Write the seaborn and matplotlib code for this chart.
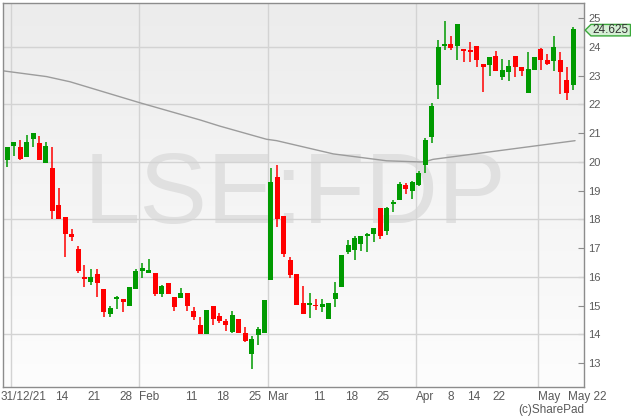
import numpy as np
import pandas as pd
import matplotlib
matplotlib.use("Agg")
import matplotlib.pyplot as plt
import seaborn as sns
from matplotlib.colors import LinearSegmentedColormap
from matplotlib.patches import Polygon
from matplotlib.transforms import ScaledTranslation, blended_transform_factory

# ── Data: daily candles (31/12/21 .. 10 May 22) ──
opens = [20.08, 20.57, 20.52, 20.18, 20.79, 20.66, 19.98, 19.79, 18.50, 18.09,
         17.50, 16.98, 16.01, 15.83, 16.10, 15.58, 14.72, 15.23, 15.23, 15.00,
         15.59, 16.21, 16.15, 16.14, 15.39, 15.79, 15.30, 15.28, 15.44, 14.82,
         14.33, 14.00, 14.99, 14.64, 14.46, 14.09, 14.54, 14.06, 13.33, 13.99,
         14.06, 15.91, 19.48, 18.12, 16.59, 16.10, 15.08, 15.03, 15.04, 14.97,
         14.55, 15.22, 15.66, 16.85, 16.92, 17.16, 17.44, 17.51, 18.39, 17.61,
         18.54, 18.69, 19.20, 18.99, 19.21, 19.89, 20.88, 22.69, 24.03, 24.10,
         24.02, 23.93, 23.90, 24.03, 23.41, 23.37, 23.69, 22.97, 23.14, 23.69,
         23.30, 22.41, 23.21, 23.92, 23.55, 23.52, 23.55, 22.85, 22.69]
highs = [20.52, 20.70, 20.77, 20.95, 21.00, 20.90, 20.70, 20.51, 19.09, 18.09,
         17.67, 17.07, 16.41, 16.27, 16.27, 15.58, 14.99, 15.34, 15.23, 15.65,
         16.27, 16.50, 16.63, 16.14, 15.72, 15.79, 15.30, 15.61, 15.44, 14.97,
         14.60, 14.85, 14.99, 14.74, 14.53, 14.81, 14.54, 14.25, 13.96, 14.26,
         15.20, 19.78, 19.89, 18.12, 16.69, 16.10, 15.69, 15.43, 15.22, 15.22,
         15.08, 15.82, 16.77, 17.29, 17.43, 17.43, 17.52, 17.70, 18.39, 18.44,
         18.68, 19.30, 19.28, 19.35, 19.68, 20.82, 22.04, 24.24, 24.90, 24.38,
         24.80, 23.93, 24.18, 24.03, 23.41, 23.64, 23.85, 23.58, 23.55, 23.69,
         23.30, 23.84, 23.65, 23.95, 23.75, 24.38, 23.84, 23.29, 24.69]
lows = [19.84, 20.21, 20.08, 20.18, 20.51, 20.08, 19.98, 18.03, 18.00, 16.71,
        17.24, 16.13, 15.64, 15.73, 15.29, 14.62, 14.62, 14.90, 14.77, 15.00,
        15.59, 15.95, 16.15, 15.34, 15.29, 15.39, 14.81, 15.28, 14.83, 14.50,
        14.00, 14.00, 14.32, 14.39, 14.11, 14.04, 14.04, 13.74, 12.81, 13.62,
        14.06, 15.91, 17.73, 16.71, 15.97, 15.02, 14.70, 14.56, 14.85, 14.78,
        14.55, 14.97, 15.66, 16.79, 16.59, 16.89, 16.87, 17.22, 17.31, 17.45,
        18.27, 18.69, 18.89, 18.70, 19.17, 19.63, 20.65, 22.18, 23.90, 23.89,
        23.55, 23.49, 23.49, 23.31, 22.43, 22.98, 23.18, 22.85, 22.83, 22.95,
        22.99, 22.41, 23.21, 23.19, 23.38, 23.18, 22.35, 22.16, 22.50]
closes = [20.52, 20.70, 20.11, 20.70, 21.00, 20.08, 20.56, 18.31, 18.01, 17.51,
          17.40, 16.22, 15.94, 15.99, 15.80, 14.79, 14.92, 15.30, 15.11, 15.65,
          16.20, 16.31, 16.25, 15.39, 15.68, 15.39, 14.97, 15.44, 15.00, 14.61,
          14.00, 14.85, 14.55, 14.48, 14.31, 14.68, 14.04, 13.78, 13.84, 14.19,
          15.20, 19.30, 18.01, 16.78, 16.08, 15.02, 14.70, 15.08, 14.99, 15.05,
          15.08, 15.44, 16.77, 17.11, 17.36, 17.43, 17.46, 17.70, 17.44, 18.40,
          18.58, 19.23, 19.06, 19.29, 19.61, 20.77, 21.94, 23.99, 24.10, 23.98,
          24.80, 23.85, 23.83, 23.55, 23.31, 23.64, 23.18, 23.20, 23.34, 23.29,
          23.18, 23.23, 23.65, 23.56, 23.40, 23.99, 23.14, 22.41, 24.625]

# moving average line (vertices, x = trading-day index)
ma_days = [-0.67, 6.1, 9.75, 20.6, 30.0, 33.0, 40.3, 41.9, 50.7, 59.0, 64.2, 65.0, 66.2, 88.3]
ma_values = [23.17, 22.97, 22.79, 22.06, 21.46, 21.25, 20.79, 20.74, 20.28, 20.04, 20.00, 20.01, 20.09, 20.74]

# x ticks sit at the right edge of the labelled trading day
tick_labels = ["31/12/21", "", "14", "21", "28", "Feb", "", "11", "18", "25", "Mar",
               "", "11", "18", "25", "Apr", "", "8", "14", "22", "May", "May 22"]
tick_days = [0, 4, 9, 14, 19, 20, 24, 29, 34, 39, 40, 44, 49, 54, 59, 63, 64, 69, 73, 77, 82, 86]
month_days = [0, 20, 40, 63, 82]

last_price = "24.625"

df = pd.DataFrame({"open": opens, "high": highs, "low": lows, "close": closes})
df["day"] = np.arange(len(df))
df["up"] = df["close"] >= df["open"]
GREEN, RED = "#009a00", "#ff0000"
colors = np.where(df["up"], GREEN, RED)

# ── Figure ───────────────────────────────────────────────────
sns.set_style("white")
plt.rcParams["font.family"] = ["Liberation Sans", "DejaVu Sans"]

fig = plt.figure(figsize=(6.31, 4.18), dpi=100)
ax = fig.add_axes([3 / 631, 31 / 418, 581 / 631, 384 / 418])

# soft grey-to-white background
bg = LinearSegmentedColormap.from_list("bg", ["#ececec", "#fdfdfd"])
ax.imshow(np.linspace(0, 1, 256).reshape(-1, 1), cmap=bg, extent=[0, 1, 0, 1],
          transform=ax.transAxes, aspect="auto", zorder=0)

ax.text(0.502, 0.427, "LSE:FDP", transform=ax.transAxes, ha="center", va="baseline",
        fontsize=73, color="#e0e0e0", zorder=0.5)

for v in range(14, 25, 2):
    ax.axhline(v, color="#d3d3d3", lw=1, zorder=1)
for d in month_days:
    ax.axvline(d + 0.5, color="#d3d3d3", lw=1, zorder=1)

sns.lineplot(x=ma_days, y=ma_values, ax=ax, color="#9c9c9c", linewidth=1.0, zorder=2)

# candles
ax.vlines(df["day"], df["low"], df["high"], colors=colors, linewidth=1.1, zorder=3)
ax.bar(df["day"], np.maximum((df["close"] - df["open"]).abs(), 0.05),
       bottom=np.minimum(df["open"], df["close"]), width=0.78, color=colors,
       linewidth=0, zorder=4)

ax.set_xlim(-0.67, 89.69)
ax.set_ylim(12.17, 25.53)
ax.set_xlabel("")
ax.set_ylabel("")

# axes styling
for s in ax.spines.values():
    s.set_color("#8c8c8c")
    s.set_linewidth(1)
ax.yaxis.tick_right()
ax.set_yticks(range(13, 26))
ax.tick_params(axis="y", direction="in", length=4, color="#8c8c8c", labelcolor="#5a5a5a",
               labelsize=8, pad=3, right=True, left=False)
ax.set_xticks([d + 0.5 for d in tick_days])
ax.set_xticklabels(tick_labels)
ax.tick_params(axis="x", direction="in", length=6, color="#8c8c8c", labelcolor="#5a5a5a",
               labelsize=8.5, pad=3)
for lab in ax.get_xticklabels():
    txt = lab.get_text()
    if txt == "31/12/21":
        lab.set_ha("left")
        lab.set_transform(lab.get_transform() + ScaledTranslation(-0.095, 0, fig.dpi_scale_trans))
    elif txt == "May 22":
        lab.set_ha("left")
        lab.set_transform(lab.get_transform() + ScaledTranslation(0.05, 0, fig.dpi_scale_trans))
    elif txt in ("Feb", "Mar", "Apr", "May"):
        lab.set_ha("left")
    else:
        lab.set_ha("right")

# last price flag on the right axis
tr = blended_transform_factory(ax.transAxes, ax.transData)
p = float(last_price)
top, bot = p + 0.16, p - 0.24
mid = (top + bot) / 2
flag = Polygon([(1.002, mid), (1.012, top), (1.080, top), (1.080, bot), (1.012, bot)],
               closed=True, transform=tr, clip_on=False, facecolor="#d5efd5",
               edgecolor="#3aa83a", linewidth=1, zorder=5)
ax.add_patch(flag)
ax.text(1.046, mid, last_price, transform=tr, ha="center", va="center", fontsize=8.5,
        color="#333333", clip_on=False, zorder=6)

fig.text(584 / 631, 8 / 418, "(c)SharePad", ha="right", va="center", fontsize=8.5, color="#5a5a5a")

fig.savefig("out.png", dpi=100)
